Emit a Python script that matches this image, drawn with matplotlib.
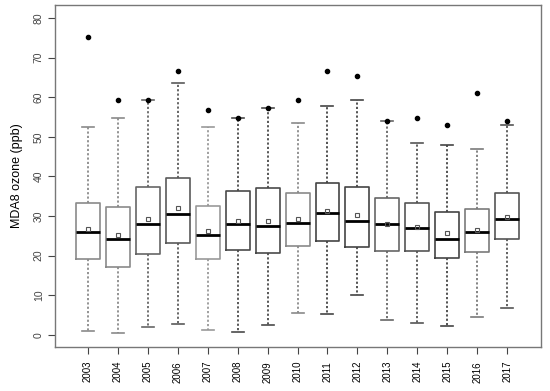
import matplotlib
matplotlib.use("Agg")
import matplotlib.pyplot as plt

years = ["2003", "2004", "2005", "2006", "2007", "2008", "2009", "2010",
         "2011", "2012", "2013", "2014", "2015", "2016", "2017"]
q1 = [19.1, 17.0, 20.3, 23.3, 19.2, 21.5, 20.7, 22.4, 23.6, 22.2, 21.2, 21.1, 19.5, 20.9, 24.2]
median = [26.0, 24.1, 28.1, 30.5, 25.3, 28.0, 27.5, 28.2, 30.8, 28.8, 28.0, 26.9, 24.3, 25.9, 29.3]
q3 = [33.4, 32.2, 37.4, 39.5, 32.6, 36.2, 37.0, 35.8, 38.3, 37.4, 34.5, 33.4, 31.0, 31.8, 35.9]
mean = [26.7, 25.2, 29.3, 31.9, 26.3, 28.7, 28.8, 29.3, 31.3, 30.3, 28.0, 27.3, 25.6, 26.4, 29.8]
whisk_lo = [0.9, 0.35, 2.0, 2.8, 1.3, 0.7, 2.5, 5.4, 5.2, 10.1, 3.7, 3.0, 2.2, 4.6, 6.8]
whisk_hi = [52.5, 54.7, 59.2, 63.5, 52.5, 54.7, 57.4, 53.6, 57.9, 59.2, 54.1, 48.5, 48.0, 47.0, 53.0]
outliers = [75.2, 59.2, 59.2, 66.7, 56.8, 54.7, 57.4, 59.2, 66.7, 65.3, 54.1, 54.7, 53.0, 61.0, 54.1]

edge_colors = ["#8a8a8a", "#8a8a8a", "#666666", "#5a5a5a", "#999999", "#4a4a4a", "#4a4a4a",
               "#8a8a8a", "#444444", "#444444", "#666666", "#555555", "#444444", "#7a7a7a", "#555555"]

plt.rcParams['font.family'] = ['Liberation Sans', 'DejaVu Sans']

fig = plt.figure(figsize=(5.5, 3.91), dpi=100)
ax = fig.add_axes([0.1, 0.1125, 0.8836, 0.8745])

stats = []
for i, y in enumerate(years):
    stats.append(dict(label=y, q1=q1[i], med=median[i], q3=q3[i], mean=mean[i],
                      whislo=whisk_lo[i], whishi=whisk_hi[i], fliers=[outliers[i]]))

positions = list(range(1, len(years) + 1))
for i, s in enumerate(stats):
    c = edge_colors[i]
    ax.bxp([s], positions=[positions[i]], widths=0.8, showmeans=True,
           boxprops=dict(color=c, linewidth=1.2),
           medianprops=dict(color="black", linewidth=2.0),
           whiskerprops=dict(color=c, linestyle=(0, (1.2, 1.2)), linewidth=1.3),
           capprops=dict(color=c, linewidth=1.2),
           capwidths=0.4,
           meanprops=dict(marker="s", markerfacecolor="none", markeredgecolor="#555555",
                          markersize=3.5, markeredgewidth=0.8),
           flierprops=dict(marker="o", markerfacecolor="black", markeredgecolor="black",
                           markersize=3))

ax.set_xlim(-0.1, 16.13)
ax.set_ylim(-3.1, 83.3)
ax.set_xticks(positions)
ax.set_xticklabels(years, rotation=90, fontsize=7)
ax.set_yticks([0, 10, 20, 30, 40, 50, 60, 70, 80])
ax.set_yticklabels(["0", "10", "20", "30", "40", "50", "60", "70", "80"], rotation=90,
                   fontsize=7.5, va="center", color="#444444")
ax.tick_params(axis="both", length=5, color="#444444")
ax.tick_params(axis="x", pad=5)
ax.tick_params(axis="y", pad=3)
for sp in ax.spines.values():
    sp.set_color("#777777")
    sp.set_linewidth(1.0)
ax.set_ylabel("MDA8 ozone (ppb)", fontsize=9, labelpad=8)

fig.savefig("out.png", dpi=100)
